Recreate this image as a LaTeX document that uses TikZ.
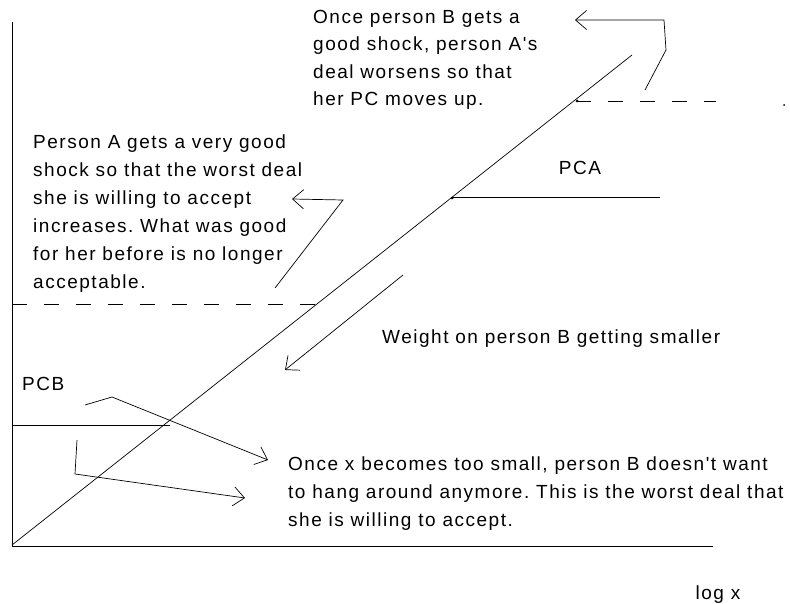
\documentclass[tikz,border=0pt]{standalone}
\usepackage{fontspec}
\newfontfamily\paintfont{Liberation Sans}[LetterSpace=8]
\usetikzlibrary{arrows.meta}

\begin{document}
\frenchspacing
\begin{tikzpicture}[x=1pt,y=-1pt,
	note/.style={font={\paintfont\fontsize{19}{28}\selectfont}, align=left, inner sep=0pt, anchor=base west},
	pointer/.style={-{Straight Barb[length=11pt,width=19pt]}, line width=0.7pt},
	curve/.style={line width=0.7pt},
	level/.style={line width=0.8pt, dash pattern=on 15pt off 17pt}]

\useasboundingbox (0,0) rectangle (790,604);

% axes
\coordinate (origin) at (12,546);
\draw[line width=0.9pt] (12,22) -- (origin) -- (713,546);
\node[note, anchor=base] (logx) at (718,599) {log x};

% contract curve
\draw[curve] (12,545) -- (632,55);

% participation constraints
\draw[line width=0.9pt] (12,425) -- (170,425);
\node[note] (pcb) at (22,390) {PCB};
\draw[line width=0.9pt] (452,197) -- (660,197);
\fill (452,198) circle (1.5);
\node[note, anchor=base] (pca) at (580,175) {PCA};

\draw[level] (12,304) -- (322,304);
\draw[level, dash phase=2pt] (578,101) -- (716,101);
\fill (577,101) circle (1.5);
\fill (784,105) circle (1);

% notes (base = last line)
\node[note, font={\paintfont\fontsize{19}{27.5}\selectfont}] (noteB) at (313,106) {Once person B gets a\\good shock, person A's\\deal worsens so that\\her PC moves up.};
\node[note] (noteA) at (33,288) {Person A gets a very good\\shock so that the worst deal\\she is willing to accept\\increases. What was good\\for her before is no longer\\acceptable.};
\node[note] (noteW) at (382,343) {Weight on person B getting smaller};
\node[note] (noteX) at (288,526) {Once x becomes too small, person B doesn't want\\to hang around anymore. This is the worst deal that\\she is willing to accept.};

% pointers
\coordinate (b0) at (645,90);
\coordinate (b1) at (575,20);
\draw[pointer] (b0) -- (666,50) -- (664,20) -- (b1);

\coordinate (a0) at (275,288);
\coordinate (a1) at (292,199);
\draw[pointer] (a0) -- (343,200) -- (a1);

\coordinate (w0) at (403,275);
\coordinate (w1) at (285,370);
\draw[pointer] (w0) -- (w1);

\coordinate (x0) at (85,405);
\coordinate (x1) at (268,460);
\draw[pointer] (x0) -- (112,397) -- (x1);

\coordinate (y0) at (77,440);
\coordinate (y1) at (245,498);
\draw[pointer] (y0) -- (75,474) -- (y1);

\end{tikzpicture}
\end{document}
